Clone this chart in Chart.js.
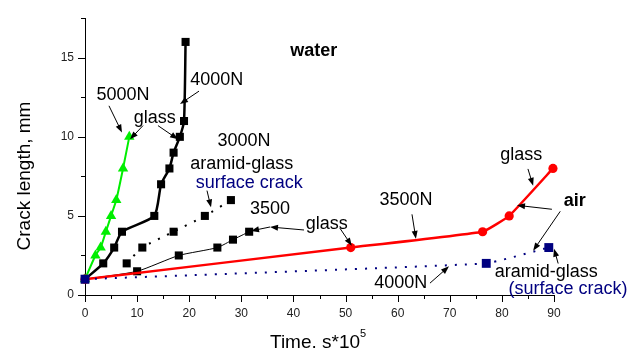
<!DOCTYPE html>
<html lang="en">
<head>
  <meta charset="UTF-8">
  <title>Crack length vs time</title>
  <script src="https://cdn.jsdelivr.net/npm/chart.js"></script>
  <style>
    * { margin: 0; padding: 0; box-sizing: border-box; }
    html, body { width: 632px; height: 351px; background: white; overflow: hidden; }
    .ChartBox { position: relative; width: 632px; height: 351px; }
  </style>
</head>
<body>
  <div class="ChartBox"><canvas id="crackChart"></canvas></div>

  <script>
    // ---- data (time in s*10^5, crack length in mm) ----
    var green5000X = [0, 2, 3, 4, 5, 6, 7.3, 8.5];
    var green5000Y = [1, 2.5, 3, 4, 5, 6, 8, 10];

    var black4000X = [0, 3.5, 5.6, 7.1, 13.3, 14.6, 16.2, 17, 18.2, 19, 19.3];
    var black4000Y = [1, 2, 3, 4, 5, 7, 8, 9, 10, 11, 16];

    var dotted3000X = [8, 11, 17, 23, 28];
    var dotted3000Y = [2, 3, 4, 5, 6];

    var thin3500X = [0, 10, 18, 25.4, 28.4, 31.5];
    var thin3500Y = [1, 1.5, 2.5, 3, 3.5, 4];

    var red3500X = [0, 51, 76.3, 81.4, 89.8];
    var red3500Y = [1, 3, 4, 5, 8];

    var navy4000X = [0, 77, 89];
    var navy4000Y = [1, 2, 3];

    var xTicks = [0, 10, 20, 30, 40, 50, 60, 70, 80, 90];
    var yTicks = [0, 5, 10, 15];

    // labels: [text, x, y, colour, bold]
    var labels = [
      ['water', 43.9, 15.44, '#000', true],
      ['5000N', 7.3, 12.64, '#000', false],
      ['glass', 13.4, 11.2, '#000', false],
      ['4000N', 25.3, 13.57, '#000', false],
      ['3000N', 30.5, 9.71, '#000', false],
      ['aramid-glass', 30.1, 8.28, '#000', false],
      ['surface crack', 31.5, 7.1, '#000080', false],
      ['3500', 35.5, 5.42, '#000', false],
      ['glass', 46.4, 4.48, '#000', false],
      ['3500N', 61.6, 5.98, '#000', false],
      ['glass', 83.7, 8.84, '#000', false],
      ['air', 94.0, 5.92, '#000', true],
      ['4000N', 60.6, 0.75, '#000', false],
      ['aramid-glass', 88.5, 1.43, '#000', false],
      ['(surface crack)', 92.7, 0.37, '#000080', false]
    ];

    // arrows: [x0, y0, x1, y1] (head at x1,y1)
    var arrows = [
      [4.6, 11.96, 7.1, 10.27],
      [11.13, 10.71, 8.64, 9.84],
      [14.0, 10.71, 17.85, 9.84],
      [21.88, 12.89, 18.23, 12.08],
      [23.41, 6.6, 24.18, 5.54],
      [42.03, 4.11, 35.5, 4.30],
      [35.5, 4.30, 31.86, 4.05],
      [48.9, 4.23, 51.2, 3.11],
      [62.75, 5.1, 63.5, 3.55],
      [85.0, 7.97, 86.0, 6.91],
      [89.6, 5.42, 82.9, 5.67],
      [91.2, 5.29, 86.0, 2.8],
      [90.8, 1.99, 90.0, 2.93],
      [66.2, 0.75, 69.85, 1.81]
    ];

    function pts(xs, ys) {
      return xs.map(function (x, i) { return { x: x, y: ys[i] }; });
    }

    var FONT = "'Liberation Sans', Arial, sans-serif";

    var decorPlugin = {
      id: 'decor',
      afterDraw: function (chart) {
        var ctx = chart.ctx;
        var xs = chart.scales.x, ys = chart.scales.y;
        var area = chart.chartArea;
        ctx.save();
        ctx.strokeStyle = '#000';
        ctx.fillStyle = '#000';
        ctx.lineWidth = 1;

        // ticks (major + minor)
        ctx.beginPath();
        for (var v = 0; v <= 90; v += 5) {
          var px = Math.round(xs.getPixelForValue(v)) + 0.5;
          var len = (v % 10 === 0) ? 7 : 4;
          ctx.moveTo(px, area.bottom);
          ctx.lineTo(px, area.bottom + len);
        }
        for (var w = 0; w <= 17.5; w += 2.5) {
          var py = Math.round(ys.getPixelForValue(w)) + 0.5;
          var len2 = (w % 5 === 0) ? 7 : 4;
          ctx.moveTo(area.left, py);
          ctx.lineTo(area.left - len2, py);
        }
        ctx.stroke();

        // axis titles
        ctx.font = '19px ' + FONT;
        ctx.textBaseline = 'middle';
        ctx.textAlign = 'left';
        ctx.fillText('Time. s*10', 270, 343);
        ctx.font = '11px ' + FONT;
        ctx.fillText('5', 360, 334);

        ctx.save();
        ctx.translate(25, 176);
        ctx.rotate(-Math.PI / 2);
        ctx.font = '19px ' + FONT;
        ctx.textAlign = 'center';
        ctx.fillText('Crack length, mm', 0, 0);
        ctx.restore();

        // annotations
        ctx.textAlign = 'center';
        labels.forEach(function (l) {
          ctx.font = (l[4] ? 'bold 18px ' : '18px ') + FONT;
          ctx.fillStyle = l[3];
          ctx.fillText(l[0], xs.getPixelForValue(l[1]), ys.getPixelForValue(l[2]));
        });

        ctx.fillStyle = '#000';
        arrows.forEach(function (a) {
          var x0 = xs.getPixelForValue(a[0]), y0 = ys.getPixelForValue(a[1]);
          var x1 = xs.getPixelForValue(a[2]), y1 = ys.getPixelForValue(a[3]);
          var ang = Math.atan2(y1 - y0, x1 - x0);
          ctx.beginPath();
          ctx.moveTo(x0, y0);
          ctx.lineTo(x1 - 5 * Math.cos(ang), y1 - 5 * Math.sin(ang));
          ctx.stroke();
          ctx.beginPath();
          ctx.moveTo(x1, y1);
          ctx.lineTo(x1 - 8 * Math.cos(ang) + 3 * Math.sin(ang), y1 - 8 * Math.sin(ang) - 3 * Math.cos(ang));
          ctx.lineTo(x1 - 8 * Math.cos(ang) - 3 * Math.sin(ang), y1 - 8 * Math.sin(ang) + 3 * Math.cos(ang));
          ctx.closePath();
          ctx.fill();
        });
        ctx.restore();
      }
    };

    const ctxCrack = document.getElementById('crackChart').getContext('2d');
    var CrackChart = new Chart(ctxCrack, {
      type: 'line',
      data: {
        datasets: [
          {
            label: '5000N glass (water)',
            data: pts(green5000X, green5000Y),
            borderColor: '#00ee00', backgroundColor: '#00ee00',
            borderWidth: 2, pointStyle: 'triangle', pointRadius: 6, pointBorderWidth: 0,
            tension: 0.2, order: 3
          },
          {
            label: '4000N glass (water)',
            data: pts(black4000X, black4000Y),
            borderColor: '#000', backgroundColor: '#000',
            borderWidth: 2.5, pointStyle: 'rect', pointRadius: 5.7, pointBorderWidth: 0,
            tension: 0.2, order: 2
          },
          {
            label: '3000N aramid-glass surface crack (water)',
            data: pts(dotted3000X, dotted3000Y),
            borderColor: '#000', backgroundColor: '#000',
            borderWidth: 2, borderDash: [2, 8], pointStyle: 'rect', pointRadius: 5.7, pointBorderWidth: 0,
            tension: 0.2, order: 2
          },
          {
            label: '3500 glass (water)',
            data: pts(thin3500X, thin3500Y),
            borderColor: '#000', backgroundColor: '#000',
            borderWidth: 1, pointStyle: 'rect', pointRadius: 5.7, pointBorderWidth: 0,
            tension: 0.2, order: 2
          },
          {
            label: '3500N glass (air)',
            data: pts(red3500X, red3500Y),
            borderColor: '#ff0000', backgroundColor: '#ff0000',
            borderWidth: 2.5, pointStyle: 'circle', pointRadius: 4.6, pointBorderWidth: 0,
            tension: 0.1, order: 1
          },
          {
            label: '4000N aramid-glass surface crack (air)',
            data: pts(navy4000X, navy4000Y),
            borderColor: '#000080', backgroundColor: '#000080',
            borderWidth: 2, borderDash: [2, 8], pointStyle: 'rect', pointRadius: 6.3, pointBorderWidth: 0,
            tension: 0.1, order: 0
          }
        ]
      },
      options: {
        responsive: true,
        maintainAspectRatio: false,
        animation: false,
        clip: false,
        layout: { padding: { left: 0, top: 14, right: 78, bottom: 0 } },
        plugins: { legend: { display: false }, tooltip: { enabled: false } },
        scales: {
          x: {
            type: 'linear', min: 0, max: 90,
            afterBuildTicks: function (s) { s.ticks = xTicks.map(function (v) { return { value: v }; }); },
            afterFit: function (s) { s.height = 56; },
            grid: { display: false, drawTicks: false },
            border: { display: true, color: '#000', width: 1 },
            ticks: { color: '#222', padding: 11, font: { size: 12, family: FONT }, maxRotation: 0 }
          },
          y: {
            type: 'linear', min: 0, max: 17.5,
            afterBuildTicks: function (s) { s.ticks = yTicks.map(function (v) { return { value: v }; }); },
            afterFit: function (s) { s.width = 85; },
            grid: { display: false, drawTicks: false },
            border: { display: true, color: '#000', width: 1 },
            ticks: { color: '#222', padding: 11, font: { size: 12, family: FONT } }
          }
        }
      },
      plugins: [decorPlugin]
    });
  </script>
</body>
</html>
